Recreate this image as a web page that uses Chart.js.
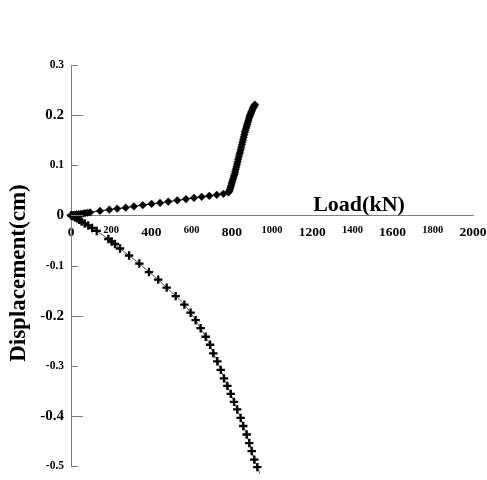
<!DOCTYPE html>
<html>
<head>
<meta charset="utf-8">
<script src="https://cdn.jsdelivr.net/npm/chart.js@4.4.0/dist/chart.umd.min.js"></script>
<style>
html,body{margin:0;padding:0;background:#fff;}
#wrap{width:487px;height:480px;position:relative;}
</style>
</head>
<body>
<div id="wrap"><canvas id="c" width="487" height="480"></canvas></div>
<script>
// ---- data ----
const loadA = [0, 5, 12, 20, 28, 38, 48, 60, 70, 82, 95, 144, 191, 230, 272, 313, 357, 401, 443, 484, 529, 572, 612, 650, 688, 725, 758, 783, 787, 790, 793, 796, 799, 802, 805, 808, 811, 814, 817, 820, 823, 826, 829, 832, 835, 838, 841, 844, 847, 850, 853, 856, 859, 862, 865, 868, 871, 874, 877, 880, 883, 886, 889, 892, 895, 898, 901, 904, 907, 910, 913, 915];
const dispA = [0, 0.0004, 0.001, 0.0015, 0.002, 0.0025, 0.003, 0.0038, 0.0045, 0.0052, 0.006, 0.009, 0.0115, 0.0135, 0.0155, 0.018, 0.0205, 0.023, 0.025, 0.0275, 0.030, 0.0325, 0.035, 0.037, 0.039, 0.041, 0.043, 0.046, 0.048, 0.051, 0.055, 0.059, 0.063, 0.067, 0.071, 0.075, 0.079, 0.0825, 0.087, 0.092, 0.097, 0.102, 0.107, 0.112, 0.117, 0.122, 0.126, 0.131, 0.136, 0.141, 0.146, 0.151, 0.156, 0.161, 0.166, 0.170, 0.174, 0.178, 0.182, 0.186, 0.190, 0.194, 0.198, 0.201, 0.204, 0.207, 0.210, 0.213, 0.215, 0.217, 0.219, 0.221];
const loadB = [0, 6, 12, 20, 28, 40, 53, 68, 86, 105, 128, 186, 202, 219, 244, 289, 340, 388, 434, 476, 521, 564, 595, 620, 645, 670, 692, 708, 728, 745, 761, 778, 795, 811, 827, 844, 857, 874, 887, 899, 912, 927, 940];
const dispB = [0, -0.001, -0.002, -0.0038, -0.0056, -0.009, -0.0123, -0.016, -0.020, -0.025, -0.031, -0.047, -0.052, -0.057, -0.066, -0.080, -0.096, -0.113, -0.128, -0.144, -0.161, -0.178, -0.194, -0.209, -0.225, -0.242, -0.258, -0.275, -0.291, -0.308, -0.325, -0.340, -0.356, -0.372, -0.387, -0.404, -0.420, -0.437, -0.454, -0.470, -0.487, -0.502, -0.515];
const xTickValues = [0, 200, 400, 600, 800, 1000, 1200, 1400, 1600, 1800, 2000];
const xTickLabels = ['0', '200', '400', '600', '800', '1000', '1200', '1400', '1600', '1800', '2000'];
const yTickValues = [-0.5, -0.4, -0.3, -0.2, -0.1, 0, 0.1, 0.2, 0.3];
const yTickLabels = ['-0.5', '-0.4', '-0.3', '-0.2', '-0.1', '0', '0.1', '0.2', '0.3'];
const xTitle = 'Load(kN)';
const yTitle = 'Displacement(cm)';

// ---- build ----
const serif = "'Liberation Serif', 'DejaVu Serif', serif";
const ptsA = loadA.map((x, i) => ({x: x, y: dispA[i]}));
const ptsB = loadB.map((x, i) => ({x: x, y: dispB[i]}));
const axisColor = '#7f7f7f';

const extras = {
  id: 'extras',
  afterDraw(chart) {
    const ctx = chart.ctx;
    const ys = chart.scales.y, xs = chart.scales.x;
    const area = chart.chartArea;
    const left = area.left;
    ctx.save();
    ctx.strokeStyle = axisColor;
    ctx.lineWidth = 1;
    yTickValues.forEach((v, i) => {
      const py = Math.round(ys.getPixelForValue(v)) + 0.5;
      const len = (i % 2 === 1) ? 12 : 7;
      ctx.beginPath();
      ctx.moveTo(left, py);
      ctx.lineTo(left + len, py);
      ctx.stroke();
    });
    ctx.fillStyle = '#000';
    ctx.font = "bold 22px " + serif;
    ctx.textAlign = 'center';
    ctx.textBaseline = 'alphabetic';
    ctx.fillText(xTitle, xs.getPixelForValue(1433), ys.getPixelForValue(0) - 4);
    // y title
    ctx.font = "bold 23px " + serif;
    ctx.translate(25, ys.getPixelForValue(-0.115));
    ctx.rotate(-Math.PI / 2);
    ctx.textAlign = 'center';
    ctx.fillText(yTitle, 0, 0);
    ctx.restore();
  }
};

new Chart(document.getElementById('c'), {
  type: 'scatter',
  data: {
    datasets: [
      {
        data: ptsA,
        showLine: true,
        borderColor: '#000',
        borderWidth: 1,
        backgroundColor: '#000',
        pointStyle: 'rectRot',
        pointRadius: 3.8,
        pointBorderWidth: 0.5,
        pointBorderColor: '#000',
        clip: false
      },
      {
        data: ptsB,
        showLine: true,
        borderColor: '#555',
        borderWidth: 1,
        backgroundColor: '#000',
        pointStyle: 'cross',
        pointRadius: 4.2,
        pointBorderWidth: 2.3,
        pointBorderColor: '#000',
        clip: false
      }
    ]
  },
  options: {
    responsive: false,
    animation: false,
    events: [],
    layout: {padding: {left: 0, top: 65, right: 14, bottom: 9}},
    plugins: {legend: {display: false}, tooltip: {enabled: false}, title: {display: false}},
    scales: {
      x: {
        type: 'linear',
        position: {y: 0},
        min: 0, max: 2000,
        afterBuildTicks: (s) => { s.ticks = xTickValues.map(v => ({value: v})); },
        afterFit: (s) => { s.paddingLeft = 0; s.paddingRight = 0; },
        grid: {display: false, drawTicks: false},
        border: {display: true, color: axisColor, width: 1},
        ticks: {
          autoSkip: false,
          maxRotation: 0,
          padding: 9,
          color: '#000',
          callback: (v, i) => xTickLabels[i],
          font: (c) => ({family: serif, weight: 'bold', size: (c.index % 2 === 0) ? 13.5 : 10.5})
        }
      },
      y: {
        type: 'linear',
        position: 'left',
        min: -0.5, max: 0.3,
        afterBuildTicks: (s) => { s.ticks = yTickValues.map(v => ({value: v})); },
        afterFit: (s) => { s.width = 71; },
        grid: {display: false, drawTicks: false},
        border: {display: true, color: axisColor, width: 1},
        ticks: {
          autoSkip: false,
          padding: 7,
          color: '#000',
          callback: (v, i) => yTickLabels[i],
          font: (c) => ({family: serif, weight: 'bold', size: (c.index % 2 === 1) ? 15 : 11.5})
        }
      }
    }
  },
  plugins: [extras]
});
</script>
</body>
</html>
